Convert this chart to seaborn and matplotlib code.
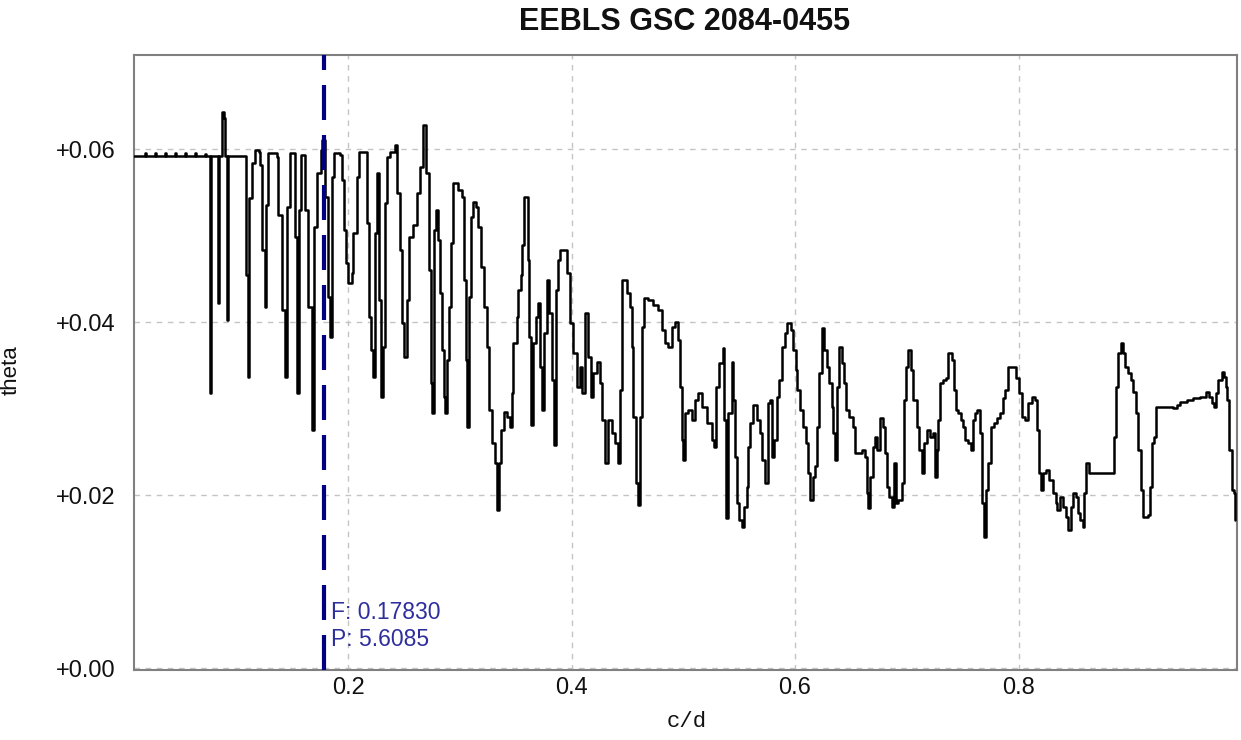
import matplotlib
matplotlib.use("Agg")
import matplotlib.pyplot as plt
import seaborn as sns
import pandas as pd
from matplotlib.ticker import FixedLocator, FuncFormatter

# ---------------- data ----------------
title = "EEBLS GSC 2084-0455"
x_label = "c/d"
y_label = "theta"
peak_freq = 0.17830
peak_period = 5.6085
x_ticks = [0.2, 0.4, 0.6, 0.8]
y_ticks = [0.00, 0.02, 0.04, 0.06]

freq = [
    0.0085, 0.0183, 0.0192, 0.0273, 0.0282, 0.0362, 0.0371, 0.0452, 0.0461, 0.0541,
    0.0550, 0.0631, 0.0640, 0.0720, 0.0729, 0.0756, 0.0765, 0.0774, 0.0828, 0.0837,
    0.0846, 0.0864, 0.0872, 0.0890, 0.0899, 0.0908, 0.0917, 0.0926, 0.1078, 0.1087,
    0.1105, 0.1114, 0.1141, 0.1168, 0.1204, 0.1213, 0.1230, 0.1257, 0.1266, 0.1284,
    0.1365, 0.1374, 0.1409, 0.1436, 0.1454, 0.1481, 0.1508, 0.1526, 0.1544, 0.1562,
    0.1579, 0.1597, 0.1615, 0.1642, 0.1678, 0.1696, 0.1723, 0.1758, 0.1767, 0.1794,
    0.1821, 0.1839, 0.1857, 0.1875, 0.1928, 0.1946, 0.1964, 0.1982, 0.2000, 0.2036,
    0.2045, 0.2081, 0.2098, 0.2152, 0.2170, 0.2188, 0.2206, 0.2224, 0.2242, 0.2260,
    0.2277, 0.2295, 0.2313, 0.2331, 0.2349, 0.2376, 0.2421, 0.2438, 0.2465, 0.2483,
    0.2501, 0.2528, 0.2546, 0.2582, 0.2617, 0.2644, 0.2671, 0.2698, 0.2725, 0.2743,
    0.2752, 0.2770, 0.2787, 0.2805, 0.2823, 0.2841, 0.2859, 0.2868, 0.2886, 0.2904,
    0.2922, 0.2940, 0.2984, 0.3020, 0.3038, 0.3056, 0.3065, 0.3083, 0.3101, 0.3119,
    0.3145, 0.3163, 0.3190, 0.3217, 0.3244, 0.3262, 0.3289, 0.3315, 0.3333, 0.3351,
    0.3369, 0.3396, 0.3423, 0.3450, 0.3468, 0.3477, 0.3512, 0.3521, 0.3548, 0.3557,
    0.3575, 0.3611, 0.3620, 0.3638, 0.3655, 0.3682, 0.3700, 0.3718, 0.3736, 0.3754,
    0.3781, 0.3799, 0.3826, 0.3843, 0.3861, 0.3879, 0.3897, 0.3960, 0.3987, 0.4013,
    0.4049, 0.4076, 0.4094, 0.4121, 0.4148, 0.4174, 0.4192, 0.4228, 0.4255, 0.4273,
    0.4300, 0.4327, 0.4362, 0.4389, 0.4416, 0.4434, 0.4452, 0.4497, 0.4523, 0.4541,
    0.4550, 0.4577, 0.4595, 0.4613, 0.4631, 0.4649, 0.4685, 0.4729, 0.4774, 0.4810,
    0.4837, 0.4864, 0.4899, 0.4926, 0.4953, 0.4971, 0.4989, 0.4998, 0.5016, 0.5043,
    0.5078, 0.5105, 0.5132, 0.5168, 0.5213, 0.5257, 0.5275, 0.5293, 0.5320, 0.5356,
    0.5365, 0.5383, 0.5400, 0.5436, 0.5445, 0.5463, 0.5481, 0.5499, 0.5526, 0.5544,
    0.5570, 0.5579, 0.5597, 0.5624, 0.5660, 0.5687, 0.5705, 0.5732, 0.5758, 0.5776,
    0.5794, 0.5812, 0.5839, 0.5857, 0.5884, 0.5911, 0.5928, 0.5964, 0.5982, 0.6009,
    0.6018, 0.6045, 0.6072, 0.6098, 0.6116, 0.6134, 0.6161, 0.6179, 0.6197, 0.6215,
    0.6242, 0.6260, 0.6286, 0.6304, 0.6331, 0.6340, 0.6358, 0.6376, 0.6394, 0.6421,
    0.6438, 0.6456, 0.6483, 0.6519, 0.6537, 0.6564, 0.6600, 0.6626, 0.6644, 0.6653,
    0.6671, 0.6698, 0.6716, 0.6734, 0.6761, 0.6787, 0.6805, 0.6823, 0.6841, 0.6868,
    0.6886, 0.6904, 0.6922, 0.6957, 0.6975, 0.6993, 0.7011, 0.7038, 0.7056, 0.7092,
    0.7110, 0.7136, 0.7154, 0.7181, 0.7208, 0.7235, 0.7253, 0.7271, 0.7280, 0.7298,
    0.7324, 0.7351, 0.7369, 0.7405, 0.7423, 0.7441, 0.7459, 0.7485, 0.7503, 0.7521,
    0.7548, 0.7575, 0.7593, 0.7611, 0.7629, 0.7655, 0.7673, 0.7691, 0.7709, 0.7727,
    0.7754, 0.7781, 0.7808, 0.7834, 0.7861, 0.7879, 0.7906, 0.7951, 0.7978, 0.8004,
    0.8031, 0.8058, 0.8085, 0.8121, 0.8148, 0.8166, 0.8183, 0.8201, 0.8219, 0.8246,
    0.8273, 0.8309, 0.8336, 0.8345, 0.8371, 0.8398, 0.8425, 0.8443, 0.8470, 0.8488,
    0.8515, 0.8532, 0.8550, 0.8577, 0.8586, 0.8604, 0.8631, 0.8846, 0.8855, 0.8872,
    0.8890, 0.8917, 0.8935, 0.8953, 0.8980, 0.9007, 0.9025, 0.9051, 0.9069, 0.9096,
    0.9114, 0.9159, 0.9177, 0.9195, 0.9213, 0.9230, 0.9356, 0.9383, 0.9418, 0.9445,
    0.9508, 0.9562, 0.9624, 0.9678, 0.9705, 0.9732, 0.9750, 0.9767, 0.9785, 0.9821,
    0.9839, 0.9857, 0.9866, 0.9884, 0.9911, 0.9928, 0.9937,
]

theta = [
    0.0592, 0.0595, 0.0592, 0.0595, 0.0592, 0.0595, 0.0592, 0.0595, 0.0592, 0.0595,
    0.0592, 0.0595, 0.0592, 0.0594, 0.0592, 0.0592, 0.0318, 0.0592, 0.0592, 0.0422,
    0.0592, 0.0592, 0.0643, 0.0636, 0.0592, 0.0592, 0.0402, 0.0592, 0.0592, 0.0454,
    0.0336, 0.0543, 0.0584, 0.0599, 0.0597, 0.0582, 0.0483, 0.0417, 0.0535, 0.0595,
    0.0591, 0.0524, 0.0414, 0.0336, 0.0533, 0.0595, 0.0595, 0.0498, 0.0318, 0.0530,
    0.0593, 0.0593, 0.0530, 0.0417, 0.0275, 0.0510, 0.0572, 0.0599, 0.0610, 0.0545,
    0.0429, 0.0383, 0.0568, 0.0595, 0.0593, 0.0564, 0.0506, 0.0468, 0.0445, 0.0457,
    0.0503, 0.0568, 0.0597, 0.0597, 0.0515, 0.0406, 0.0368, 0.0336, 0.0503, 0.0572,
    0.0425, 0.0313, 0.0371, 0.0538, 0.0591, 0.0597, 0.0605, 0.0549, 0.0483, 0.0399,
    0.0360, 0.0425, 0.0498, 0.0512, 0.0549, 0.0579, 0.0628, 0.0572, 0.0460, 0.0329,
    0.0295, 0.0506, 0.0530, 0.0495, 0.0434, 0.0368, 0.0313, 0.0295, 0.0356, 0.0417,
    0.0491, 0.0561, 0.0553, 0.0545, 0.0449, 0.0356, 0.0279, 0.0429, 0.0521, 0.0539,
    0.0533, 0.0510, 0.0464, 0.0417, 0.0371, 0.0298, 0.0260, 0.0237, 0.0183, 0.0237,
    0.0275, 0.0296, 0.0290, 0.0279, 0.0318, 0.0376, 0.0406, 0.0437, 0.0454, 0.0489,
    0.0545, 0.0472, 0.0383, 0.0281, 0.0376, 0.0406, 0.0422, 0.0348, 0.0298, 0.0387,
    0.0449, 0.0410, 0.0333, 0.0258, 0.0437, 0.0472, 0.0483, 0.0457, 0.0399, 0.0364,
    0.0325, 0.0348, 0.0318, 0.0410, 0.0360, 0.0313, 0.0341, 0.0354, 0.0329, 0.0287,
    0.0237, 0.0287, 0.0272, 0.0260, 0.0237, 0.0321, 0.0449, 0.0434, 0.0417, 0.0371,
    0.0290, 0.0214, 0.0188, 0.0290, 0.0394, 0.0428, 0.0425, 0.0420, 0.0414, 0.0391,
    0.0376, 0.0371, 0.0394, 0.0400, 0.0379, 0.0325, 0.0264, 0.0241, 0.0295, 0.0298,
    0.0287, 0.0310, 0.0318, 0.0302, 0.0283, 0.0264, 0.0256, 0.0325, 0.0353, 0.0370,
    0.0287, 0.0173, 0.0295, 0.0354, 0.0310, 0.0244, 0.0191, 0.0171, 0.0163, 0.0186,
    0.0209, 0.0256, 0.0283, 0.0304, 0.0287, 0.0272, 0.0241, 0.0214, 0.0306, 0.0310,
    0.0244, 0.0264, 0.0313, 0.0333, 0.0371, 0.0387, 0.0399, 0.0391, 0.0368, 0.0345,
    0.0321, 0.0298, 0.0279, 0.0260, 0.0225, 0.0194, 0.0221, 0.0233, 0.0279, 0.0341,
    0.0393, 0.0368, 0.0348, 0.0329, 0.0302, 0.0272, 0.0241, 0.0325, 0.0371, 0.0353,
    0.0329, 0.0298, 0.0290, 0.0279, 0.0249, 0.0249, 0.0252, 0.0244, 0.0202, 0.0185,
    0.0221, 0.0256, 0.0267, 0.0252, 0.0289, 0.0279, 0.0249, 0.0209, 0.0198, 0.0186,
    0.0237, 0.0191, 0.0194, 0.0214, 0.0310, 0.0348, 0.0368, 0.0345, 0.0310, 0.0279,
    0.0252, 0.0225, 0.0260, 0.0275, 0.0267, 0.0272, 0.0221, 0.0252, 0.0287, 0.0329,
    0.0333, 0.0335, 0.0364, 0.0356, 0.0321, 0.0298, 0.0295, 0.0287, 0.0279, 0.0264,
    0.0260, 0.0252, 0.0287, 0.0295, 0.0298, 0.0272, 0.0191, 0.0151, 0.0206, 0.0237,
    0.0279, 0.0283, 0.0289, 0.0295, 0.0312, 0.0321, 0.0348, 0.0348, 0.0335, 0.0318,
    0.0290, 0.0287, 0.0306, 0.0313, 0.0310, 0.0275, 0.0225, 0.0206, 0.0225, 0.0229,
    0.0217, 0.0202, 0.0191, 0.0183, 0.0198, 0.0186, 0.0175, 0.0160, 0.0186, 0.0202,
    0.0198, 0.0179, 0.0171, 0.0163, 0.0202, 0.0237, 0.0225, 0.0225, 0.0267, 0.0325,
    0.0364, 0.0376, 0.0364, 0.0348, 0.0341, 0.0333, 0.0319, 0.0295, 0.0252, 0.0206,
    0.0175, 0.0177, 0.0209, 0.0260, 0.0267, 0.0302, 0.0302, 0.0301, 0.0304, 0.0308,
    0.0310, 0.0312, 0.0313, 0.0319, 0.0313, 0.0306, 0.0302, 0.0318, 0.0333, 0.0342,
    0.0337, 0.0325, 0.0310, 0.0252, 0.0206, 0.0202, 0.0171,
]

# ---------------- styling ----------------
sns.set_style("white")
plt.rcParams["font.family"] = ["Liberation Sans", "DejaVu Sans"]

fig = plt.figure(figsize=(12.41, 7.40), dpi=100)
ax = fig.add_axes([134 / 1241, 70 / 740, 1103 / 1241, 615 / 740])

df = pd.DataFrame({"freq": freq, "theta": theta})
sns.lineplot(data=df, x="freq", y="theta", ax=ax, color="black",
             linewidth=1.8, sort=False, estimator=None,
             drawstyle="steps-post", zorder=3)

ax.axvline(peak_freq, color="#000080", linewidth=3,
           linestyle=(0, (8.4, 3.6)), zorder=4)

ax.set_xlim(0.0085, 0.9955)
ax.set_ylim(-0.00023, 0.07087)

ax.xaxis.set_major_locator(FixedLocator(x_ticks))
ax.yaxis.set_major_locator(FixedLocator(y_ticks))
ax.xaxis.set_major_formatter(FuncFormatter(lambda v, p: f"{v:.1f}"))
ax.yaxis.set_major_formatter(FuncFormatter(lambda v, p: f"{v:+.2f}"))
ax.tick_params(axis="both", length=0, labelsize=17, colors="#111111")
ax.tick_params(axis="y", pad=13)
ax.tick_params(axis="x", pad=5)

ax.grid(True, color="#c4c4c4", linestyle=(0, (4, 4)), linewidth=1.0)
ax.set_axisbelow(True)
for s in ax.spines.values():
    s.set_color("#808080")
    s.set_linewidth(1.5)

ax.set_ylabel(y_label, fontsize=16, color="#111111")
ax.yaxis.set_label_coords(-0.1015, 0.488)
ax.set_xlabel(x_label, fontsize=16, color="#111111",
              family=["Liberation Mono", "DejaVu Sans Mono"])
ax.xaxis.set_label_coords(0.501, -0.066)

fig.text(685 / 1241, 1 - 22 / 740, title, ha="center", va="center",
         fontsize=22, fontweight="bold", color="#111111")

ax.annotate(f"F: {peak_freq:.5f}", xy=(peak_freq, 0.00647),
            xytext=(5, 0), textcoords="offset points",
            ha="left", va="center", fontsize=16.5, color="#2e2e9e", zorder=5)
ax.annotate(f"P: {peak_period:.4f}", xy=(peak_freq, 0.00324),
            xytext=(5, 0), textcoords="offset points",
            ha="left", va="center", fontsize=16.5, color="#2e2e9e", zorder=5)

fig.savefig("out.png", dpi=100)
